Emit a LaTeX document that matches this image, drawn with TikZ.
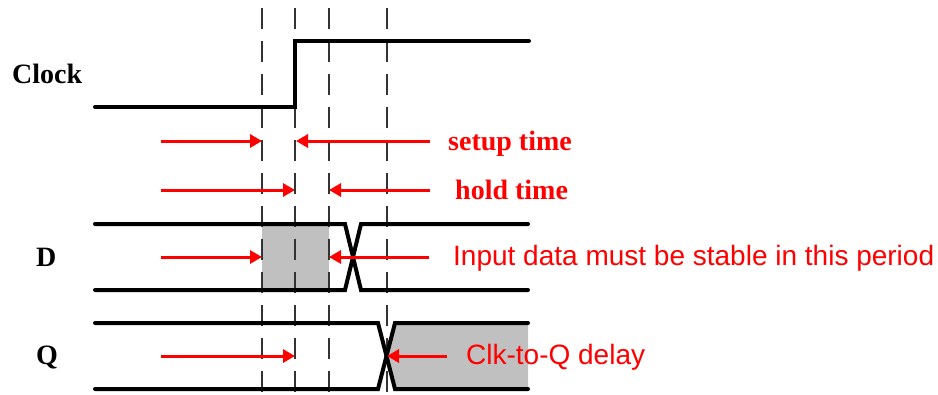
\documentclass[tikz,border=0pt]{standalone}
\usepackage{fontspec}
\setmainfont{Liberation Serif}
\newfontfamily\labelsans{Liberation Sans}
\usetikzlibrary{arrows.meta}
\definecolor{holdgray}{RGB}{192,192,192}
\begin{document}
\begin{tikzpicture}[x=1bp,y=-1bp,
  wave/.style={line width=4bp,line cap=round,line join=miter},
  guide/.style={line width=1.3bp,black!80,dash pattern=on 21bp off 12bp},
  timing/.style={red,line width=3bp,-{Triangle[length=12bp,width=13bp]}},
  signame/.style={font=\fontsize{28bp}{32bp}\selectfont\bfseries,anchor=base west,inner sep=0pt},
  serifnote/.style={red,font=\fontsize{28bp}{32bp}\selectfont\bfseries,anchor=base west,inner sep=0pt},
  sansnote/.style={red,font=\fontsize{28bp}{32bp}\selectfont\labelsans,anchor=base west,inner sep=0pt}]
\useasboundingbox (0,0) rectangle (938,394);

% shaded stable windows
\fill[holdgray] (262,224) rectangle (329,290);
\fill[holdgray] (395,323) -- (528,323) -- (528,389) -- (395,389) -- (387,356) -- cycle;

% vertical reference lines
\foreach \gx in {262,295,329,387}
  \draw[guide] (\gx,8) -- (\gx,394);

% signal names
\node[signame] (clk) at (12,83) {Clock};
\node[signame] (dname) at (36,266) {D};
\node[signame] (qname) at (36,364) {Q};

% clock waveform
\draw[wave] (95,107) -- (295,107) -- (295,41) -- (529,41);

% D waveform
\draw[wave] (95,224) -- (345,224) -- (361,290) -- (528,290);
\draw[wave] (95,290) -- (345,290) -- (361,224) -- (528,224);

% Q waveform
\draw[wave] (95,323) -- (378,323) -- (395,389) -- (528,389);
\draw[wave] (95,389) -- (378,389) -- (395,323) -- (528,323);

% annotation texts
\node[serifnote] (setup) at (448,150) {setup time};
\node[serifnote] (hold) at (455,199) {hold time};
\node[sansnote] (stable) at (453,265) {Input data must be stable in this period};
\node[sansnote] (delay) at (466,364) {Clk-to-Q delay};

% arrow end points
\coordinate (s1) at (161,141); \coordinate (s1t) at (262,141);
\coordinate (s2) at (430,141); \coordinate (s2t) at (296,141);
\coordinate (h1) at (161,190); \coordinate (h1t) at (295,190);
\coordinate (h2) at (430,190); \coordinate (h2t) at (329,190);
\coordinate (d1) at (161,257); \coordinate (d1t) at (262,257);
\coordinate (d2) at (429,257); \coordinate (d2t) at (329,257);
\coordinate (q1) at (161,356); \coordinate (q1t) at (295,356);
\coordinate (q2) at (447,356); \coordinate (q2t) at (387,356);

\draw[timing] (s1) -- (s1t);
\draw[timing] (s2) -- (s2t);
\draw[timing] (h1) -- (h1t);
\draw[timing] (h2) -- (h2t);
\draw[timing] (d1) -- (d1t);
\draw[timing] (d2) -- (d2t);
\draw[timing] (q1) -- (q1t);
\draw[timing] (q2) -- (q2t);
\end{tikzpicture}
\end{document}
